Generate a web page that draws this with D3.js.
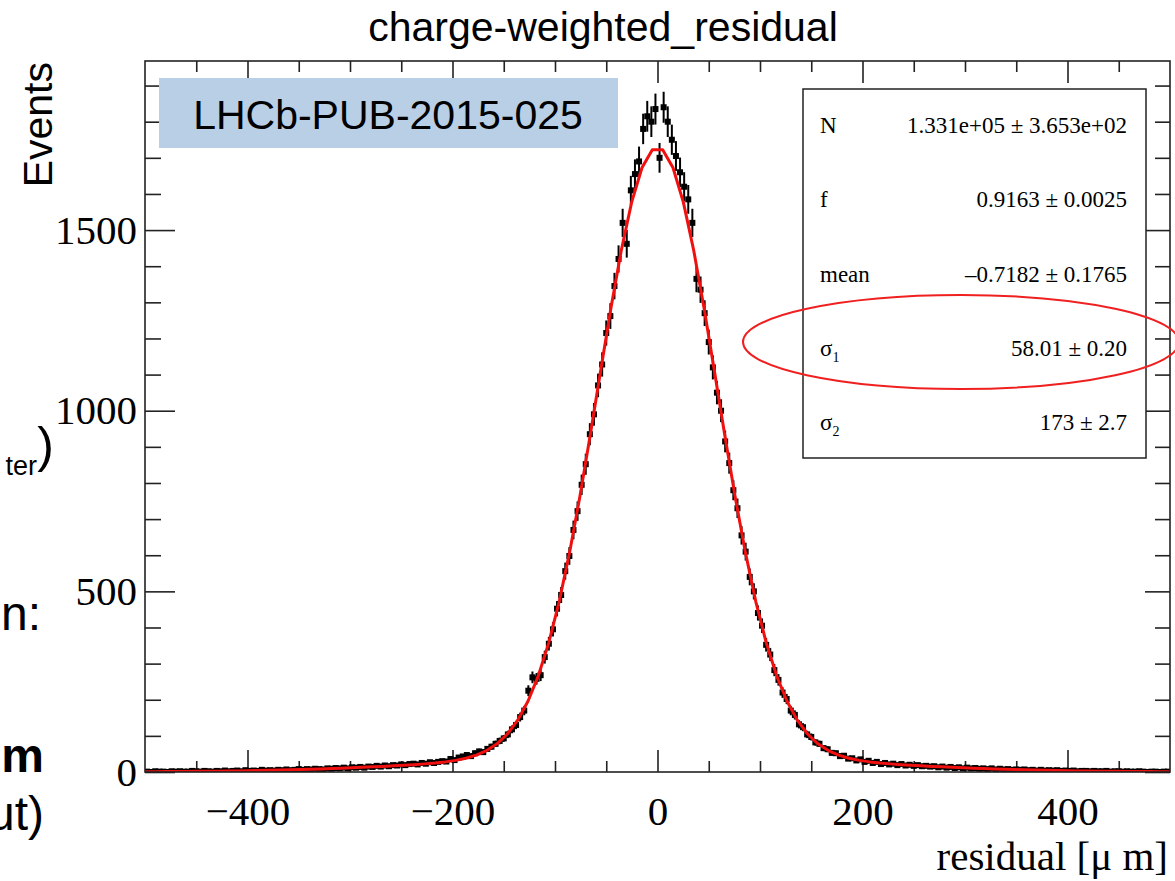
<!DOCTYPE html>
<html>
<head>
<meta charset="utf-8">
<script src="https://cdn.jsdelivr.net/npm/d3@7/dist/d3.min.js"></script>
<style>
  body { margin: 0; background: #fff; }
  svg { display: block; }
</style>
</head>
<body>
<script>
const binStart = -498;
const binStep = 4;
const counts = [
  1, 0, 2, 1, 1, 0, 2, 1, 2, 1,
  1, 3, 2, 1, 3, 2, 1, 3, 2, 4,
  2, 3, 4, 2, 5, 3, 4, 3, 6, 4,
  5, 4, 6, 5, 7, 5, 6, 8, 6, 8,
  7, 9, 8, 7, 10, 9, 11, 10, 12, 10,
  13, 12, 14, 12, 15, 14, 17, 15, 18, 16,
  19, 18, 21, 19, 22, 23, 21, 25, 23, 27,
  25, 28, 30, 29, 36, 33, 40, 43, 47, 44,
  52, 57, 55, 64, 70, 78, 86, 93, 104, 118,
  130, 152, 170, 225, 262, 258, 268, 318, 355, 395,
  452, 490, 556, 598, 670, 722, 795, 852, 935, 990,
  1070, 1128, 1215, 1262, 1345, 1420, 1520, 1462, 1610, 1655,
  1690, 1780, 1815, 1800, 1835,
  1700, 1840, 1800, 1750, 1705,
  1660, 1620, 1585, 1520, 1365, 1335, 1270, 1190, 1120, 1050,
  1000, 915, 855, 780, 730, 655, 610, 540, 500, 440,
  405, 352, 325, 282, 255, 220, 202, 170, 158, 132,
  124, 104, 97, 82, 78, 66, 63, 53, 52, 44,
  45, 37, 38, 32, 35, 28, 31, 25, 28, 22,
  25, 21, 23, 19, 22, 18, 20, 17, 19, 16,
  17, 15, 16, 13, 15, 12, 14, 11, 13, 10,
  12, 10, 11, 9, 10, 8, 10, 7, 9, 7,
  8, 6, 7, 6, 7, 5, 6, 4, 6, 4,
  5, 4, 5, 3, 4, 3, 4, 2, 3, 3,
  2, 3, 2, 2, 3, 1, 2, 2, 1, 2,
  1, 1, 2, 1, 0, 1, 1, 0, 1, 1
];

// fit curve, 100 points across [-500, 500]
const fitY = [
  0.8, 0.9, 1.1, 1.3, 1.5, 1.8, 2.0, 2.4, 2.7, 3.1,
  3.6, 4.1, 4.7, 5.3, 6.0, 6.8, 7.6, 8.5, 9.5, 10.5,
  11.7, 12.9, 14.2, 15.5, 17.0, 18.7, 20.4, 22.5, 24.9, 28.0,
  32.2, 38.1, 46.7, 59.3, 78.0, 105.2, 143.6, 196.4, 266.9, 358.0,
  471.1, 606.4, 761.6, 931.8, 1109.1, 1283.7, 1443.5, 1576.6, 1672.4, 1722.4,
  1722.4, 1672.4, 1576.6, 1443.5, 1283.7, 1109.1, 931.8, 761.6, 606.4, 471.1,
  358.0, 266.9, 196.4, 143.6, 105.2, 78.0, 59.3, 46.7, 38.1, 32.2,
  28.0, 24.9, 22.5, 20.4, 18.7, 17.0, 15.5, 14.2, 12.9, 11.7,
  10.5, 9.5, 8.5, 7.6, 6.8, 6.0, 5.3, 4.7, 4.1, 3.6,
  3.1, 2.7, 2.4, 2.0, 1.8, 1.5, 1.3, 1.1, 0.9, 0.8
];

const xMajor = [-400, -200, 0, 200, 400];
const yMajor = [0, 500, 1000, 1500];

const statNames = ["N", "f", "mean", "σ", "σ"];
const statSubs = ["", "", "", "1", "2"];
const statValues = [
  "1.331e+05 ± 3.653e+02",
  "0.9163 ± 0.0025",
  "–0.7182 ± 0.1765",
  "58.01 ± 0.20",
  "173 ± 2.7"
];

const SERIF = "'Liberation Serif', 'Times New Roman', serif";
const SANS = "'Liberation Sans', Arial, sans-serif";

var width = 1175;
var height = 881;
var plot = { left: 145, top: 61, right: 1170, bottom: 772 };

var x = d3.scaleLinear().domain([-500, 500]).range([plot.left, plot.right]);
var y = d3.scaleLinear().domain([0, 1968]).range([plot.bottom, plot.top]);

var xMinor = d3.range(-450, 500, 50).filter(v => xMajor.indexOf(v) < 0);
var yMinor = d3.range(100, 2000, 100).filter(v => yMajor.indexOf(v) < 0);

var svg = d3
  .select("body")
  .append("svg")
  .attr("width", width)
  .attr("height", height);

svg.append("rect").attr("width", width).attr("height", height).attr("fill", "#fff");

// leftover slide text on the left edge (cut off in the original too)
var slideText = [
  { t: "ter", x: 37, y: 475, size: 27, weight: "normal" },
  { t: ")", x: 54, y: 462, size: 50, weight: "normal" },
  { t: "n:", x: 41, y: 630, size: 48, weight: "normal" },
  { t: "m", x: 44, y: 772, size: 48, weight: "bold" },
  { t: "ut)", x: 44, y: 830, size: 48, weight: "normal" }
];
svg
  .selectAll(".slide")
  .data(slideText)
  .enter()
  .append("text")
  .attr("class", "slide")
  .attr("x", d => d.x)
  .attr("y", d => d.y)
  .attr("text-anchor", "end")
  .attr("font-family", SANS)
  .attr("font-size", d => d.size)
  .attr("font-weight", d => d.weight)
  .text(d => d.t);

// title
svg
  .append("text")
  .attr("x", 603)
  .attr("y", 41)
  .attr("text-anchor", "middle")
  .attr("font-family", SANS)
  .attr("font-size", 41)
  .text("charge-weighted_residual");

// axes
function styleAxis(g) {
  g.select(".domain").remove();
  g.selectAll(".tick line").attr("stroke", "#222").attr("stroke-width", 1.6);
  g.selectAll("text").attr("font-family", SERIF).attr("font-size", 41).attr("fill", "#000");
}

[[xMajor, 22], [xMinor, 11]].forEach(([vals, len]) => {
  svg.append("g")
    .attr("transform", `translate(0,${plot.bottom})`)
    .call(d3.axisTop(x).tickValues(vals).tickSize(len).tickFormat(""))
    .call(styleAxis);
  svg.append("g")
    .attr("transform", `translate(0,${plot.top})`)
    .call(d3.axisBottom(x).tickValues(vals).tickSize(len).tickFormat(""))
    .call(styleAxis);
});

[[yMajor, 30, 25], [yMinor, 16, 15]].forEach(([vals, len, lenR]) => {
  svg.append("g")
    .attr("transform", `translate(${plot.left},0)`)
    .call(d3.axisRight(y).tickValues(vals).tickSize(len).tickFormat(""))
    .call(styleAxis);
  svg.append("g")
    .attr("transform", `translate(${plot.right},0)`)
    .call(d3.axisLeft(y).tickValues(vals).tickSize(lenR).tickFormat(""))
    .call(styleAxis);
});

// tick labels
svg.append("g")
  .attr("transform", `translate(0,${plot.bottom})`)
  .call(d3.axisBottom(x).tickValues(xMajor).tickSize(0).tickPadding(24))
  .call(styleAxis);

svg.append("g")
  .attr("transform", `translate(${plot.left},0)`)
  .call(d3.axisLeft(y).tickValues(yMajor).tickSize(0).tickPadding(8).tickFormat(d3.format("d")))
  .call(styleAxis);

// axis titles
svg
  .append("text")
  .attr("transform", "translate(52,62) rotate(-90)")
  .attr("text-anchor", "end")
  .attr("font-family", SANS)
  .attr("font-size", 41)
  .text("Events");

svg
  .append("text")
  .attr("x", 1168)
  .attr("y", 870)
  .attr("text-anchor", "end")
  .attr("font-family", SERIF)
  .attr("font-size", 41)
  .text("residual [μ m]");

// data points
svg.append("clipPath").attr("id", "clip")
  .append("rect")
  .attr("x", plot.left).attr("y", plot.top)
  .attr("width", plot.right - plot.left).attr("height", plot.bottom - plot.top);

var bins = counts.map((c, i) => ({ x: binStart + i * binStep, c: c, e: Math.sqrt(c) }));

var pts = svg.append("g").attr("clip-path", "url(#clip)");

pts.selectAll(".ebar")
  .data(bins)
  .enter()
  .append("line")
  .attr("x1", d => x(d.x))
  .attr("x2", d => x(d.x))
  .attr("y1", d => y(d.c - d.e))
  .attr("y2", d => y(d.c + d.e))
  .attr("stroke", "#000")
  .attr("stroke-width", 2);

pts.selectAll(".hbar")
  .data(bins)
  .enter()
  .append("line")
  .attr("x1", d => x(d.x - binStep / 2))
  .attr("x2", d => x(d.x + binStep / 2))
  .attr("y1", d => y(d.c))
  .attr("y2", d => y(d.c))
  .attr("stroke", "#000")
  .attr("stroke-width", 2);

pts.selectAll(".marker")
  .data(bins)
  .enter()
  .append("rect")
  .attr("x", d => x(d.x) - 3)
  .attr("y", d => y(d.c) - 3)
  .attr("width", 6)
  .attr("height", 6)
  .attr("fill", "#000");

// fit
var fitPts = fitY.map((v, i) => ({ x: -500 + i * 1000 / 99, y: v }));
pts.append("path")
  .datum(fitPts)
  .attr("d", d3.line().x(d => x(d.x)).y(d => y(d.y)))
  .attr("fill", "none")
  .attr("stroke", "#f01010")
  .attr("stroke-width", 3)
  .attr("stroke-linejoin", "round");

// frame
svg.append("rect")
  .attr("x", plot.left).attr("y", plot.top)
  .attr("width", plot.right - plot.left).attr("height", plot.bottom - plot.top)
  .attr("fill", "none")
  .attr("stroke", "#222")
  .attr("stroke-width", 1.6);

// LHCb label
svg.append("rect")
  .attr("x", 159).attr("y", 78)
  .attr("width", 459).attr("height", 70)
  .attr("fill", "#b8cfe6");
svg.append("text")
  .attr("x", 388).attr("y", 129)
  .attr("text-anchor", "middle")
  .attr("font-family", SANS)
  .attr("font-size", 41)
  .text("LHCb-PUB-2015-025");

// fit stats box
svg.append("rect")
  .attr("x", 803).attr("y", 89)
  .attr("width", 343).attr("height", 369)
  .attr("fill", "#fff")
  .attr("stroke", "#222")
  .attr("stroke-width", 1.5);

var rowY = d3.scaleLinear().domain([0, 4]).range([133, 430]);

var lab = svg.selectAll(".statname")
  .data(statNames)
  .enter()
  .append("text")
  .attr("x", 820)
  .attr("y", (d, i) => rowY(i))
  .attr("font-family", SERIF)
  .attr("font-size", 23);
lab.append("tspan").text(d => d);
lab.append("tspan")
  .attr("font-size", 14)
  .attr("dy", 6)
  .text((d, i) => statSubs[i]);

svg.selectAll(".statval")
  .data(statValues)
  .enter()
  .append("text")
  .attr("x", 1127)
  .attr("y", (d, i) => rowY(i))
  .attr("text-anchor", "end")
  .attr("font-family", SERIF)
  .attr("font-size", 23)
  .text(d => d);

// highlight ellipse around sigma_1
svg.append("ellipse")
  .attr("cx", 961).attr("cy", 342)
  .attr("rx", 218).attr("ry", 47)
  .attr("fill", "none")
  .attr("stroke", "#f02020")
  .attr("stroke-width", 2);
</script>
</body>
</html>
